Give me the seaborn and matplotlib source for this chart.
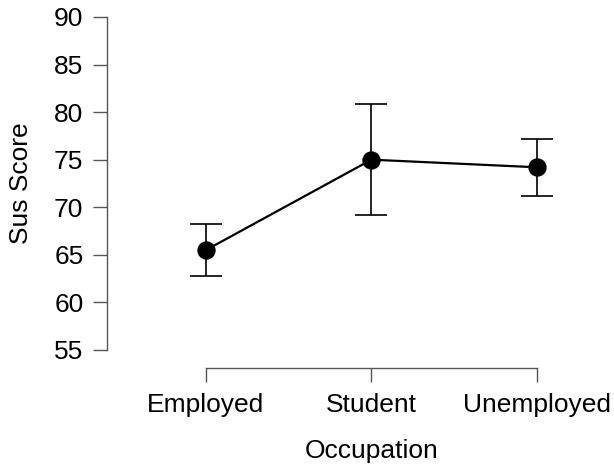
import numpy as np
import pandas as pd
import matplotlib
matplotlib.use('Agg')
import matplotlib.pyplot as plt
import seaborn as sns

# values
occupations = ['Employed', 'Student', 'Unemployed']
sus_mean = [65.5, 75.0, 74.2]
ci_lower = [62.8, 69.2, 71.2]
ci_upper = [68.2, 80.8, 77.2]
y_ticks = [55, 60, 65, 70, 75, 80, 85, 90]

df = pd.DataFrame({'Occupation': occupations, 'Sus Score': sus_mean})

sns.set_style('white')
plt.rcParams['font.family'] = ['Liberation Sans', 'DejaVu Sans']

fig = plt.figure(figsize=(6.14, 4.68), dpi=100)
ax = fig.add_axes([0.1743, 0.2137, 0.808, 0.7561])

# error bars first, so the points sit on top
pos = np.arange(len(occupations))
ax.errorbar(pos, sus_mean,
            yerr=[np.array(sus_mean) - np.array(ci_lower),
                  np.array(ci_upper) - np.array(sus_mean)],
            fmt='none', ecolor='black', elinewidth=1.2,
            capsize=11.5, capthick=1.2, zorder=2)

sns.pointplot(data=df, x='Occupation', y='Sus Score', order=occupations,
              color='black', errorbar=None, markers='o',
              markersize=12, linewidth=1.6, ax=ax, zorder=3)

ax.set_xlim(-0.598, 2.4)
ax.set_ylim(53.1, 90.3)
ax.set_yticks(y_ticks)
ax.set_yticklabels([str(t) for t in y_ticks])

for side in ['top', 'right']:
    ax.spines[side].set_visible(False)
for side in ['left', 'bottom']:
    ax.spines[side].set_color('#555555')
    ax.spines[side].set_linewidth(1.0)
ax.spines['left'].set_bounds(55, 90)
ax.spines['bottom'].set_bounds(0, 2)

ax.tick_params(axis='both', direction='out', length=10, width=1.0,
               color='#555555', labelsize=19, labelcolor='black',
               left=True, bottom=True)
ax.tick_params(axis='y', pad=7)
ax.tick_params(axis='x', pad=8)

ax.set_xlabel('Occupation', fontsize=19, color='black')
ax.set_ylabel('Sus Score', fontsize=19, color='black')
ax.xaxis.set_label_coords(0.5 + (1.0 - 0.9) / 2.998, -0.2)
ax.yaxis.set_label_coords(-0.15, (72.5 - 53.1) / (90.3 - 53.1))

fig.savefig('out.png', dpi=100)
